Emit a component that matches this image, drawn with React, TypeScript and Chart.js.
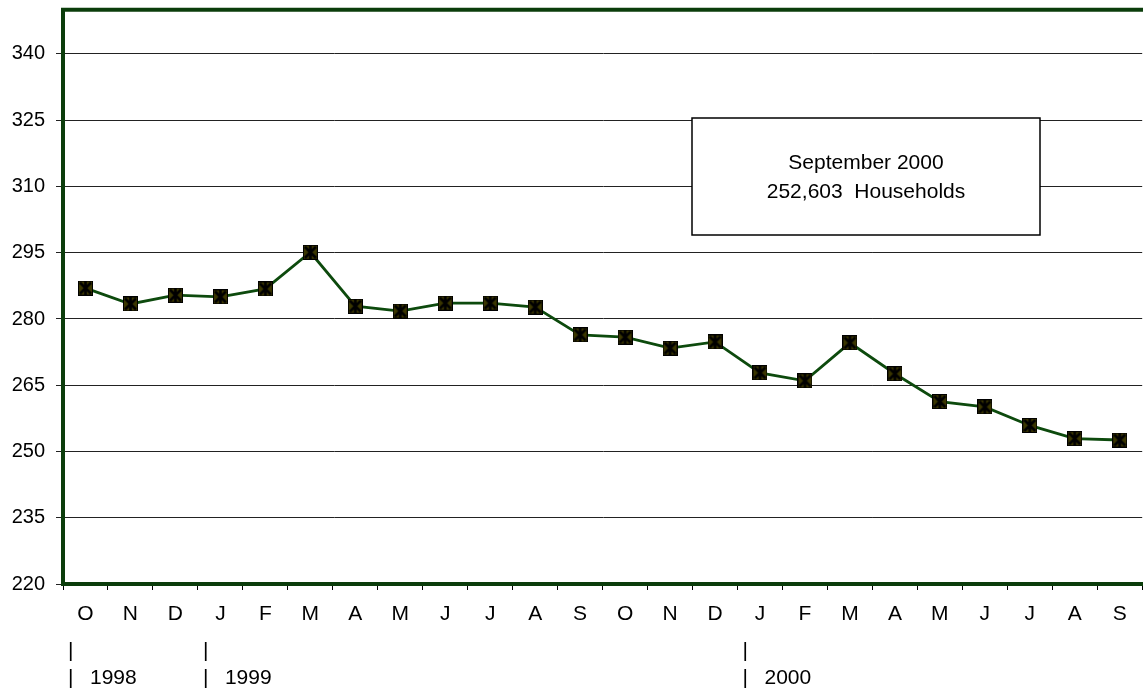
import React, { useEffect, useRef } from "react";
import { Chart, registerables } from "chart.js";

Chart.register(...registerables);

const months: string[] = ["O","N","D","J","F","M","A","M","J","J","A","S","O","N","D","J","F","M","A","M","J","J","A","S"];
const households: number[] = [287.0,283.4,285.4,285.0,286.8,295.1,282.9,281.8,283.6,283.6,282.7,276.4,275.9,273.4,274.8,267.8,266.0,274.6,267.6,261.3,260.1,255.9,252.9,252.6];
const yTicks: number[] = [220,235,250,265,280,295,310,325,340];
const yearLabels: string[] = ["1998","1999","2000"];
const yearStartIndex: number[] = [0,3,15];
const noteLines: string[] = ["September 2000","252,603  Households"];
const yMin = 220;
const yMax = 350;

const FONT = "'Liberation Sans', Arial, sans-serif";
const GREEN = "#0b3d0b";

function makeMarker(): HTMLCanvasElement {
  const c = document.createElement("canvas");
  c.width = 15; c.height = 15;
  const g = c.getContext("2d")!;
  g.fillStyle = "#3a3600";
  g.fillRect(0, 0, 15, 15);
  g.strokeStyle = "#000";
  g.lineWidth = 1;
  g.strokeRect(0.5, 0.5, 14, 14);
  g.lineWidth = 2.6;
  g.beginPath();
  g.moveTo(2, 2); g.lineTo(13, 13);
  g.moveTo(13, 2); g.lineTo(2, 13);
  g.moveTo(7.5, 1); g.lineTo(7.5, 14);
  g.stroke();
  return c;
}

const decorPlugin = {
  id: "decor",
  afterDraw(chart: any) {
    const { ctx, chartArea, scales } = chart;
    const x = scales.x;
    ctx.save();
    // top border
    ctx.strokeStyle = GREEN;
    ctx.lineWidth = 4;
    ctx.beginPath();
    ctx.moveTo(chartArea.left - 2, chartArea.top);
    ctx.lineTo(chartArea.right + 2, chartArea.top);
    ctx.stroke();
    // note box
    const bx = 692, by = 118, bw = 348, bh = 117;
    ctx.fillStyle = "#fff";
    ctx.fillRect(bx, by, bw, bh);
    ctx.strokeStyle = "#000";
    ctx.lineWidth = 1.5;
    ctx.strokeRect(bx, by, bw, bh);
    ctx.fillStyle = "#000";
    ctx.font = `21px ${FONT}`;
    ctx.textAlign = "center";
    ctx.textBaseline = "middle";
    ctx.fillText(noteLines[0], bx + bw / 2, 163);
    ctx.fillText(noteLines[1], bx + bw / 2, 192);
    // year labels
    const half = (x.getPixelForValue(1) - x.getPixelForValue(0)) / 2;
    ctx.textAlign = "left";
    yearLabels.forEach((lab, i) => {
      const bnd = x.getPixelForValue(yearStartIndex[i]) - half;
      ctx.fillText("|", bnd + 5, 651);
      ctx.fillText("|", bnd + 5, 678);
      ctx.fillText(lab, bnd + 27, 678);
    });
    ctx.restore();
  },
};

export default function App() {
  const ref = useRef<HTMLCanvasElement>(null);
  useEffect(() => {
    document.body.style.margin = "0";
    document.body.style.overflow = "hidden";
    const marker = makeMarker();
    const chart = new Chart(ref.current!, {
      type: "line",
      data: {
        labels: months,
        datasets: [{
          data: households,
          borderColor: "#0d4a0d",
          borderWidth: 2.8,
          pointStyle: marker as any,
          pointRadius: 7,
          tension: 0,
        }],
      },
      options: {
        animation: false,
        responsive: false,
        layout: { padding: { top: 8, right: 3, left: 0, bottom: 0 } },
        plugins: { legend: { display: false }, tooltip: { enabled: false } },
        scales: {
          x: {
            offset: true,
            grid: { offset: true, drawOnChartArea: false, tickLength: 6, color: "#000", lineWidth: 1 },
            border: { color: GREEN, width: 4 },
            ticks: { color: "#000", font: { family: FONT, size: 21 }, padding: 12, maxRotation: 0, autoSkip: false },
            afterFit: (s: any) => { s.height = 106; s.paddingLeft = 0; s.paddingRight = 0; },
          },
          y: {
            min: yMin,
            max: yMax,
            grid: { color: "#222", lineWidth: 1, tickLength: 7 },
            border: { color: GREEN, width: 4 },
            ticks: { color: "#000", font: { family: FONT, size: 20 }, padding: 11 },
            afterBuildTicks: (s: any) => { s.ticks = yTicks.map((v) => ({ value: v })); },
            afterFit: (s: any) => { s.width = 63; s.paddingTop = 0; s.paddingBottom = 0; },
          },
        },
      },
      plugins: [decorPlugin],
    });
    return () => chart.destroy();
  }, []);
  return (
    <div style={{ position: "absolute", left: 0, top: 0, width: 1152, height: 690 }}>
      <canvas ref={ref} width={1152} height={690} />
    </div>
  );
}
